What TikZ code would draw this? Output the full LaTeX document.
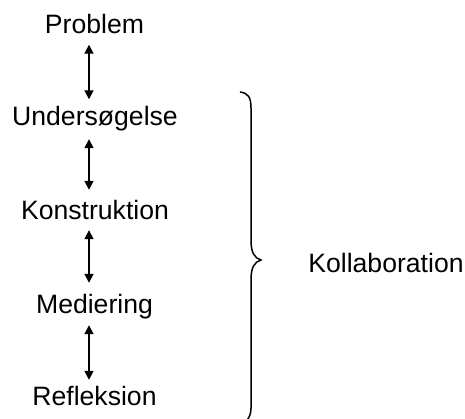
\documentclass[tikz,border=0pt]{standalone}
\usepackage{fontspec}
\setmainfont{Liberation Sans}
\usetikzlibrary{arrows.meta}
\begin{document}
\begin{tikzpicture}[x=1pt,y=-1pt,
  lbl/.style={font=\fontsize{26.6}{30}\selectfont, inner sep=0pt, anchor=base, text height=19pt, text depth=5pt},
  link/.style={line width=1.7pt, {Triangle[width=9pt,length=9pt]}-{Triangle[width=9pt,length=9pt]}, shorten <=6.5pt, shorten >=6.5pt}]
\useasboundingbox (0,0) rectangle (465,418);
\node[lbl] (p) at (94.5,33) {Problem};
\node[lbl] (u) at (95,125) {Undersøgelse};
\node[lbl] (k) at (95,219) {Konstruktion};
\node[lbl] (m) at (94.5,313) {Mediering};
\node[lbl] (r) at (94.5,405) {Refleksion};
\node[lbl] (c) at (386,272) {Kollaboration};
\draw[link] (89,0 |- p.south) -- (89,0 |- u.north);
\draw[link, shorten <=9pt, shorten >=10pt] (89,0 |- u.south) -- (89,0 |- k.north);
\draw[link, shorten <=6pt, shorten >=11pt] (89,0 |- k.south) -- (89,0 |- m.north);
\draw[link, shorten <=7pt, shorten >=6pt] (89,0 |- m.south) -- (89,0 |- r.north);
\draw[line width=1.5pt]
  (240,92) .. controls (248,93) and (251,97) .. (251,108)
  -- (251,240) .. controls (251,252) and (254,258) .. (261,260)
  .. controls (254,262) and (251,268) .. (251,280)
  -- (251,408) .. controls (251,414) and (249,418) .. (247,420);
\end{tikzpicture}
\end{document}
